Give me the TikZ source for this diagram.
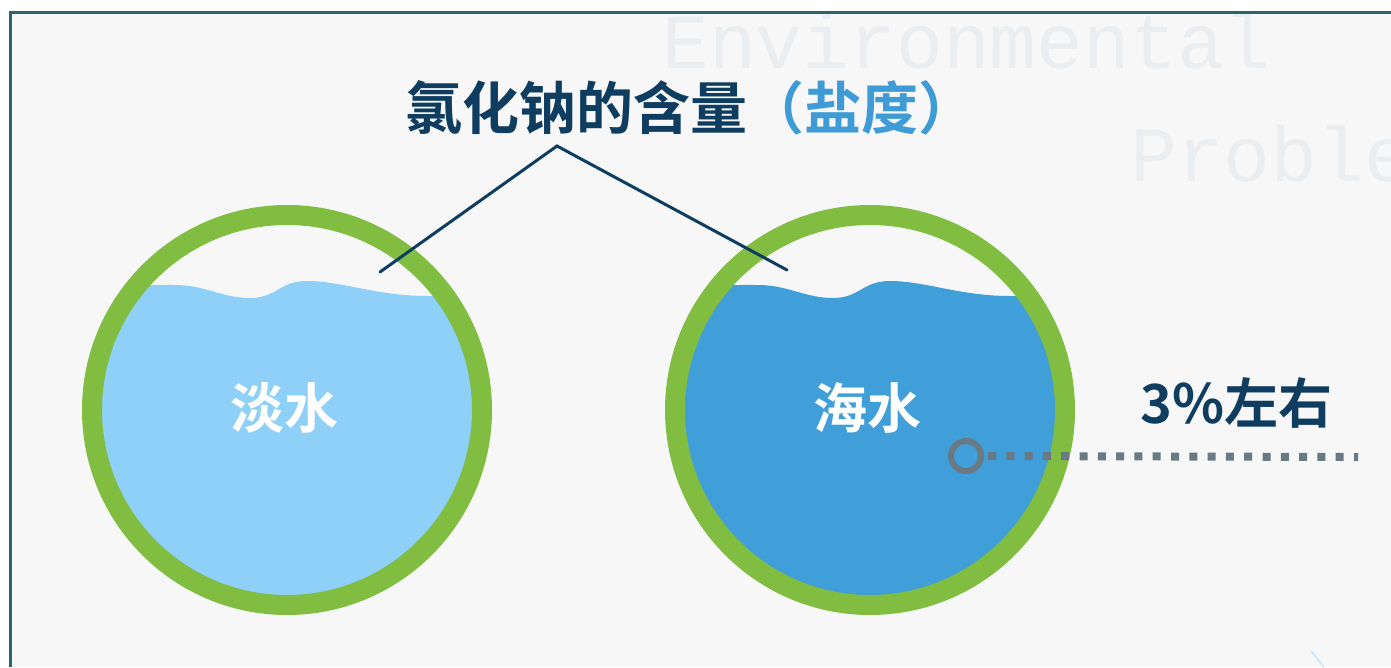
\documentclass[tikz,border=0pt]{standalone}
\usepackage{fontspec}
\newfontfamily\cjk{Noto Sans CJK SC Bold}
\newfontfamily\wmfont{Liberation Mono}
\definecolor{bgc}{HTML}{F7F7F7}
\definecolor{framec}{HTML}{2B6670}
\definecolor{ringc}{HTML}{80BD41}
\definecolor{freshc}{HTML}{8FD0F8}
\definecolor{seac}{HTML}{409ED9}
\definecolor{navyc}{HTML}{0E3D60}
\definecolor{lbluec}{HTML}{3E9BD5}
\definecolor{grayc}{HTML}{6A7A85}
\definecolor{wmc}{HTML}{EBEEF1}
\begin{document}
\begin{tikzpicture}[x=1pt,y=-1pt,
  ringstyle/.style={draw=ringc,line width=20pt},
  titletext/.style={font=\cjk\fontsize{57}{60}\selectfont,inner sep=0pt},
  labeltext/.style={font=\cjk\fontsize{54}{58}\selectfont,inner sep=0pt},
  wmtext/.style={font=\wmfont\fontsize{78}{78}\selectfont,text=wmc,inner sep=0pt,anchor=base west},
  leader/.style={draw=navyc,line width=3pt},
  dotline/.style={draw=grayc,line width=8pt,dash pattern=on 8pt off 10.3pt},
  wave/.style={}
]
\useasboundingbox (0,0) rectangle (1391,667);
\fill[white] (0,0) rectangle (1391,667);
\fill[bgc] (10,12) rectangle (1391,667);
% watermark
\node[wmtext] (wm1) at (662,68) {Environmental};
\node[wmtext] (wm2) at (1130,181) {Proble};
% frame
\draw[framec,line width=3pt] (10,667) -- (10,12) -- (1391,12);
% faint line at bottom right
\draw[draw=freshc!45,line width=2pt] (1311,651) -- (1324,667);
% water surface shape (relative to circle centre)
\def\waterpath{(-200,-118) .. controls (-150,-126) and (-130,-125) .. (-112,-125)
      .. controls (-82,-125) and (-65,-112) .. (-37,-112)
      .. controls (-10,-112) and (-8,-129) .. (20,-129)
      .. controls (55,-129) and (90,-114) .. (140,-114) -- (200,-114) -- (200,200) -- (-200,200) -- cycle}
% left circle (fresh water)
\begin{scope}[shift={(287,410)}]
  \begin{scope}
    \clip (0,0) circle (186);
    \fill[freshc] \waterpath;
  \end{scope}
  \draw[ringstyle] (0,0) circle (195);
\end{scope}
% right circle (sea water)
\begin{scope}[shift={(870,410)}]
  \begin{scope}
    \clip (0,0) circle (186);
    \fill[seac] \waterpath;
  \end{scope}
  \draw[ringstyle] (0,0) circle (195);
\end{scope}
% labels
\node[labeltext,text=white] (fresh) at (284,408) {淡水};
\node[labeltext,text=white] (sea) at (867,408) {海水};
\node[titletext,anchor=west] (title) at (405,108) {\textcolor{navyc}{氯化钠的含量}\textcolor{lbluec}{（盐度）}};
\node[labeltext,text=navyc,anchor=west] (pct) at (1140,403) {3\%左右};
% leaders
\coordinate (apex) at (557,146);
\coordinate (lend) at (380,272);
\coordinate (rend) at (787,270);
\draw[leader,line cap=round] (lend) -- (apex) -- (rend);
% dotted pointer
\node[draw=grayc,line width=6pt,circle,minimum size=30pt,inner sep=0pt] (dot) at (966,456) {};
\coordinate (dend) at (1358,457);
\draw[dotline] ([xshift=4pt]dot.east) -- (dend);
\end{tikzpicture}
\end{document}
